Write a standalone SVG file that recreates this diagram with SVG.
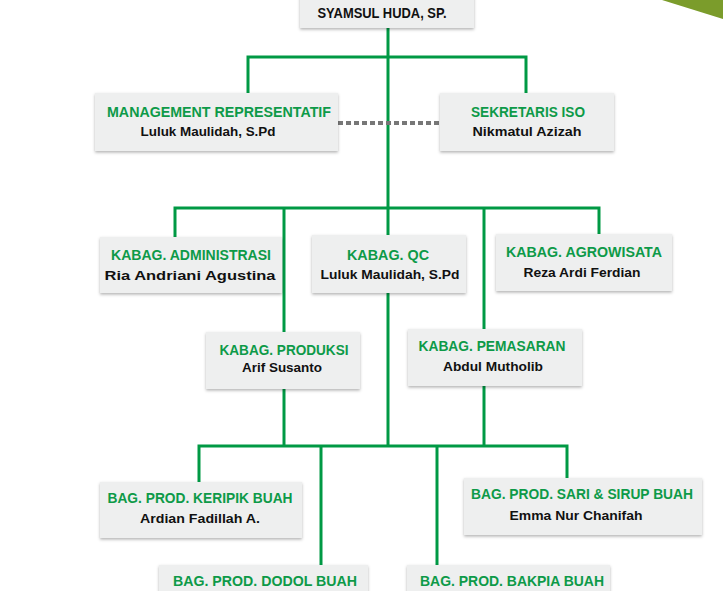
<svg xmlns="http://www.w3.org/2000/svg" width="723" height="591" viewBox="0 0 723 591">
<style>
.box{fill:#eeefef;filter:url(#sh)}
.t{font-family:"Liberation Sans",Arial,sans-serif;font-weight:bold;font-size:14px;fill:#0d9a48;text-anchor:middle}
.n{font-family:"Liberation Sans",Arial,sans-serif;font-weight:bold;font-size:13px;fill:#111;text-anchor:middle}
.h{font-family:"Liberation Sans",Arial,sans-serif;font-weight:bold;font-size:14px;fill:#111;text-anchor:middle}
.c{fill:none;stroke:#009944;stroke-width:3}
</style>
<defs>
<filter id="sh" x="-10%" y="-20%" width="120%" height="150%">
<feDropShadow dx="0" dy="1.5" stdDeviation="1.5" flood-color="#000" flood-opacity="0.3"/>
</filter>
</defs>
<rect width="723" height="591" fill="#fff"/>
<polygon points="662,0 723,0 723,19" fill="#7b9c2b"/>
<g id="connectors">
<path class="c" d="M388,28 V446"/>
<path class="c" d="M248,93 V57 H526 V93"/>
<path class="c" d="M175,237 V208 H599 V235"/>
<path class="c" d="M284,208 V332"/>
<path class="c" d="M484,208 V329"/>
<path class="c" d="M284,389 V446"/>
<path class="c" d="M484,386 V446"/>
<path class="c" d="M199,482 V446 H567 V478"/>
<path class="c" d="M321,446 V565"/>
<path class="c" d="M437,446 V565"/>
<path d="M338,123 H440" fill="none" stroke="#777" stroke-width="4" stroke-dasharray="5,3"/>
</g>
<g id="n-syamsul"><rect class="box" x="300" y="-5" width="174" height="33"/><text class="h" x="382" y="18" textLength="129" lengthAdjust="spacingAndGlyphs">SYAMSUL HUDA, SP.</text></g>
<g id="n-mr"><rect class="box" x="95" y="93" width="243" height="58"/><text class="t" x="219" y="117" textLength="224" lengthAdjust="spacingAndGlyphs">MANAGEMENT REPRESENTATIF</text><text class="n" x="208" y="136" textLength="135" lengthAdjust="spacingAndGlyphs">Luluk Maulidah, S.Pd</text></g>
<g id="n-iso"><rect class="box" x="440" y="93" width="174" height="58"/><text class="t" x="528" y="117" textLength="114" lengthAdjust="spacingAndGlyphs">SEKRETARIS ISO</text><text class="n" x="527" y="136" textLength="109" lengthAdjust="spacingAndGlyphs">Nikmatul Azizah</text></g>
<g id="n-admin"><rect class="box" x="100" y="237" width="182" height="56"/><text class="t" x="191" y="260" textLength="160" lengthAdjust="spacingAndGlyphs">KABAG. ADMINISTRASI</text><text class="n" x="190" y="280" textLength="171" lengthAdjust="spacingAndGlyphs">Ria Andriani Agustina</text></g>
<g id="n-qc"><rect class="box" x="312" y="235" width="154" height="58"/><text class="t" x="388" y="260" textLength="82" lengthAdjust="spacingAndGlyphs">KABAG. QC</text><text class="n" x="390" y="279" textLength="139" lengthAdjust="spacingAndGlyphs">Luluk Maulidah, S.Pd</text></g>
<g id="n-agro"><rect class="box" x="496" y="234" width="176" height="57"/><text class="t" x="584" y="257" textLength="156" lengthAdjust="spacingAndGlyphs">KABAG. AGROWISATA</text><text class="n" x="582" y="277" textLength="117" lengthAdjust="spacingAndGlyphs">Reza Ardi Ferdian</text></g>
<g id="n-produksi"><rect class="box" x="206" y="332" width="154" height="57"/><text class="t" x="284" y="355" textLength="129" lengthAdjust="spacingAndGlyphs">KABAG. PRODUKSI</text><text class="n" x="282" y="372" textLength="80" lengthAdjust="spacingAndGlyphs">Arif Susanto</text></g>
<g id="n-pemasaran"><rect class="box" x="408" y="329" width="174" height="57"/><text class="t" x="492" y="351" textLength="147" lengthAdjust="spacingAndGlyphs">KABAG. PEMASARAN</text><text class="n" x="493" y="371" textLength="100" lengthAdjust="spacingAndGlyphs">Abdul Mutholib</text></g>
<g id="n-keripik"><rect class="box" x="100" y="482" width="202" height="56"/><text class="t" x="200" y="503" textLength="185" lengthAdjust="spacingAndGlyphs">BAG. PROD. KERIPIK BUAH</text><text class="n" x="200" y="523" textLength="120" lengthAdjust="spacingAndGlyphs">Ardian Fadillah A.</text></g>
<g id="n-sari"><rect class="box" x="464" y="478" width="238" height="57"/><text class="t" x="582" y="499" textLength="222" lengthAdjust="spacingAndGlyphs">BAG. PROD. SARI &amp; SIRUP BUAH</text><text class="n" x="576" y="520" textLength="133" lengthAdjust="spacingAndGlyphs">Emma Nur Chanifah</text></g>
<g id="n-dodol"><rect class="box" x="159" y="565" width="209" height="40"/><text class="t" x="265" y="586" textLength="184" lengthAdjust="spacingAndGlyphs">BAG. PROD. DODOL BUAH</text></g>
<g id="n-bakpia"><rect class="box" x="407" y="565" width="203" height="40"/><text class="t" x="512" y="586" textLength="184" lengthAdjust="spacingAndGlyphs">BAG. PROD. BAKPIA BUAH</text></g>
</svg>
